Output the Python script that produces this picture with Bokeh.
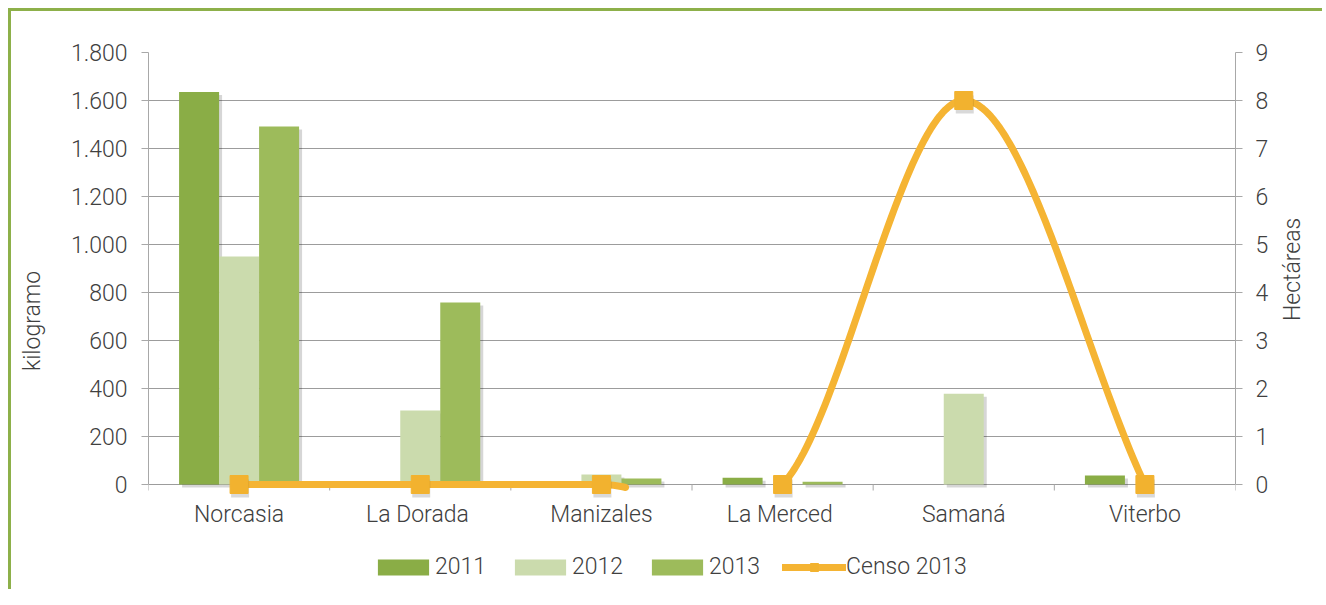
import math
from bokeh.plotting import figure
from bokeh.models import (Range1d, LinearAxis, FixedTicker, Legend, LegendItem,
                          ColumnDataSource, InlineStyleSheet)
from bokeh.core.properties import value
from bokeh.transform import dodge
from bokeh.embed import file_html
from bokeh.resources import INLINE

# ---------------- data ----------------
categories = ["Norcasia", "La  Dorada", "Manizales", "La  Merced", "Samaná", "Viterbo"]
series_names = ["2011", "2012", "2013"]
v2011 = [1635, 0, 0, 28, 0, 37]
v2012 = [950, 308, 42, 0, 378, 0]
v2013 = [1492, 758, 25, 11, 0, 0]
censo_name = "Censo 2013"
censo2013 = [0, 0, 0, 0, 8, 0]
left_ticks = [0, 200, 400, 600, 800, 1000, 1200, 1400, 1600, 1800]
right_ticks = [0, 1, 2, 3, 4, 5, 6, 7, 8, 9]

# ---------------- style ----------------
FONT = "Roboto Light"
FS = "23px"
TXT = "#404040"
GRID = "#9c9c9c"
AX = "#a8a8a8"
C2011 = "#8aad46"
C2012 = "#cbdbad"
C2013 = "#9dbb5b"
CLINE = "#f5b433"
CMARK = "#f2b22f"

W, H = 1318, 589
LEFT, RIGHT, TOP = 148, 83, 52
FRAME_W = W - LEFT - RIGHT
FRAME_H = H - TOP
PLOT_H = 432                      # pixels from 0 to 1.800
kg_per_px = 1800 / PLOT_H
ha_per_px = 9 / PLOT_H
pad_kg = (FRAME_H - PLOT_H) * kg_per_px
pad_h = pad_kg / 200.0

n = len(categories)
centers = [i + 0.5 for i in range(n)]
src = ColumnDataSource(dict(x=centers, v2011=v2011, v2012=v2012, v2013=v2013))

p = figure(frame_width=FRAME_W, frame_height=FRAME_H,
           x_range=Range1d(0, n), y_range=Range1d(-pad_kg, 1800),
           x_axis_location=None,
           output_backend="svg", toolbar_location=None,
           min_border_left=LEFT, min_border_right=RIGHT,
           min_border_top=TOP, min_border_bottom=0)
p.outline_line_color = None
p.background_fill_color = "white"
p.border_fill_color = "white"
p.stylesheets = [InlineStyleSheet(css="""
:host { position: relative; overflow: hidden; }
:host::after { content: ''; position: absolute; left: 8px; top: 8px;
  right: -12px; bottom: -12px; border: 3px solid #8db04a;
  pointer-events: none; }
""")]

# grid (includes the zero line acting as category axis line)
p.ygrid.ticker = FixedTicker(ticks=left_ticks)
p.ygrid.grid_line_color = GRID
p.ygrid.grid_line_width = 1
p.xgrid.visible = False

# bars with a soft shadow
bw = 40 / (FRAME_W / n)
sh_dx = 3 / (FRAME_W / n)
sh_dy = 3 * kg_per_px
for key, off in [("v2011", -bw), ("v2012", 0), ("v2013", bw)]:
    p.vbar(x=[c + off + sh_dx for c in centers],
           top=[max(v - sh_dy, -sh_dy) for v in src.data[key]],
           bottom=-sh_dy, width=bw, fill_color="black", fill_alpha=0.16, line_color=None)
r11 = p.vbar(x=dodge("x", -bw, range=p.x_range), top="v2011", width=bw, bottom=0,
             source=src, fill_color=C2011, line_color=None)
r12 = p.vbar(x=dodge("x", 0, range=p.x_range), top="v2012", width=bw, bottom=0,
             source=src, fill_color=C2012, line_color=None)
r13 = p.vbar(x=dodge("x", bw, range=p.x_range), top="v2013", width=bw, bottom=0,
             source=src, fill_color=C2013, line_color=None)

# category tick marks at boundaries
bnd = list(range(n + 1))
p.segment(x0=bnd, y0=[0] * len(bnd), x1=bnd, y1=[-6 * kg_per_px] * len(bnd),
          line_color=AX, line_width=1)

# category labels
p.text(x=centers, y=[0] * n, text=categories, y_offset=30,
       text_align="center", text_baseline="middle",
       text_font=value(FONT), text_font_size=FS, text_color=TXT)

# secondary axis range
p.extra_y_ranges = {"h": Range1d(-pad_h, 9)}

# smoothed line (Catmull-Rom style, as the spreadsheet draws it)
def smooth(xs, ys, steps=60, floor=-0.07):
    m = len(xs)
    tan = []
    for i in range(m):
        if i == 0:
            tan.append(ys[1] - ys[0])
        elif i == m - 1:
            tan.append(ys[-1] - ys[-2])
        else:
            tan.append((ys[i + 1] - ys[i - 1]) / 2.0)
    cx, cy = [], []
    for i in range(m - 1):
        dx = xs[i + 1] - xs[i]
        for k in range(steps + (1 if i == m - 2 else 0)):
            t = k / steps
            h00 = 2 * t**3 - 3 * t**2 + 1
            h10 = t**3 - 2 * t**2 + t
            h01 = -2 * t**3 + 3 * t**2
            h11 = t**3 - t**2
            y = h00 * ys[i] + h10 * tan[i] * dx + h01 * ys[i + 1] + h11 * tan[i + 1] * dx
            cx.append(xs[i] + t * dx)
            cy.append(y if y >= floor else float("nan"))
    return cx, cy

lx, ly = smooth(centers, censo2013)
rl = p.line(lx, ly, line_width=7, line_color=CLINE, line_cap="round",
            line_join="round", y_range_name="h")
p.scatter([c + 1 / (FRAME_W / n) for c in centers], [v - 4 * ha_per_px for v in censo2013],
          marker="square", size=18,
          fill_color="black", fill_alpha=0.15, line_color=None, y_range_name="h")
rm = p.scatter(centers, censo2013, marker="square", size=18, fill_color=CMARK,
               line_color=CMARK, y_range_name="h")

# left axis
ya = p.yaxis[0]
ya.ticker = FixedTicker(ticks=left_ticks)
ya.bounds = (0, 1800)
ya.major_label_overrides = {t: f"{t:,}".replace(",", ".") for t in left_ticks}
ya.axis_label = "kilogramo"
ya.axis_label_text_font = FONT
ya.axis_label_text_font_size = FS
ya.axis_label_text_font_style = "normal"
ya.axis_label_text_color = TXT
ya.axis_label_standoff = 22
ya.major_label_text_font = FONT
ya.major_label_text_font_size = FS
ya.major_label_text_color = TXT
ya.major_label_standoff = 14
ya.major_tick_out = 7
ya.major_tick_in = 0
ya.minor_tick_line_color = None
ya.axis_line_color = AX
ya.major_tick_line_color = AX

# right axis
yr = LinearAxis(y_range_name="h", ticker=FixedTicker(ticks=right_ticks), bounds=(0, 9),
                axis_label="Hectáreas")
yr.axis_label_orientation = math.pi / 2
yr.axis_label_text_font = FONT
yr.axis_label_text_font_size = FS
yr.axis_label_text_font_style = "normal"
yr.axis_label_text_color = TXT
yr.axis_label_standoff = 21
yr.major_label_text_font = FONT
yr.major_label_text_font_size = FS
yr.major_label_text_color = TXT
yr.major_label_standoff = 13
yr.major_tick_out = 7
yr.major_tick_in = 0
yr.minor_tick_line_color = None
yr.axis_line_color = AX
yr.major_tick_line_color = AX
p.add_layout(yr, "right")

# legend
items = [LegendItem(label=series_names[0], renderers=[r11]),
         LegendItem(label=series_names[1], renderers=[r12]),
         LegendItem(label=series_names[2], renderers=[r13]),
         LegendItem(label=censo_name, renderers=[rl, rm])]
leg = Legend(items=items, orientation="horizontal", location=(223, 9),
             glyph_width=64, glyph_height=20, label_standoff=0, spacing=22,
             padding=0, margin=0, border_line_color=None, background_fill_alpha=0,
             label_text_font=FONT, label_text_font_size=FS, label_text_color=TXT)
p.add_layout(leg)

open("out.html", "w").write(file_html(p, INLINE))
